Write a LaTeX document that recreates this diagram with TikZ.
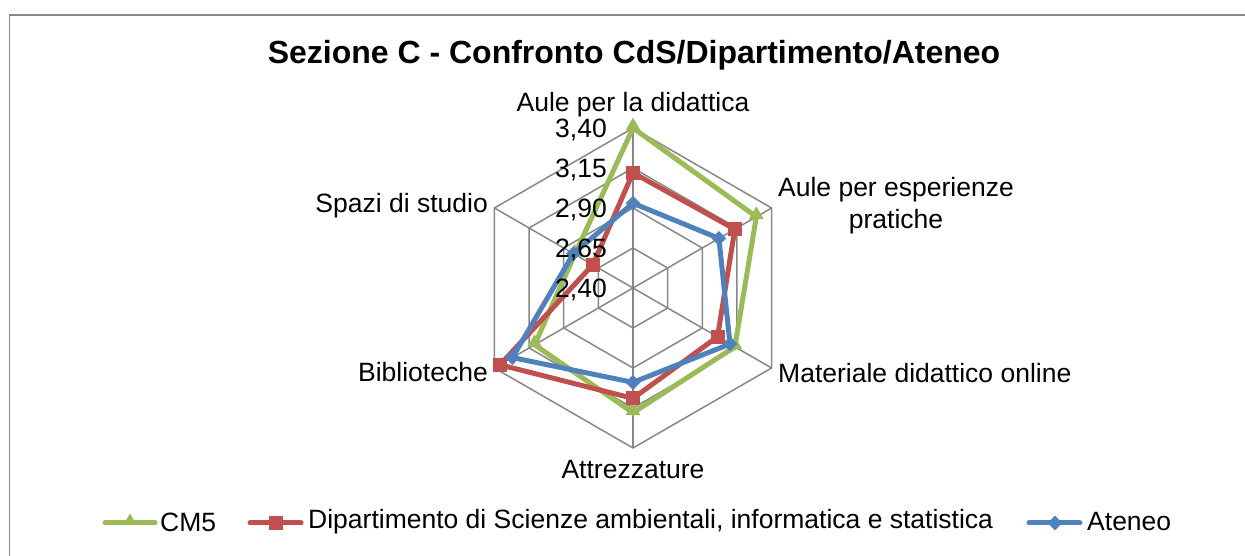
\documentclass[tikz,border=0pt]{standalone}
\usepackage{fontspec}
\setmainfont{Liberation Sans}
\usetikzlibrary{shapes.geometric}
\definecolor{cmgreen}{HTML}{9BBB59}
\definecolor{dipred}{HTML}{C0504D}
\definecolor{atblue}{HTML}{4F81BD}
\definecolor{gridgray}{HTML}{878787}
\begin{document}
\begin{tikzpicture}[x=1pt,y=1pt,
  frameline/.style={draw=gridgray,line width=1.5pt},
  gridline/.style={draw=gridgray,line width=1.5pt},
  lbl/.style={font=\fontsize{26.5}{32}\selectfont,inner sep=0pt},
  ttl/.style={font=\fontsize{32}{36}\selectfont\bfseries,inner sep=0pt},
  series/.style={line width=5pt,line join=miter},
  legline/.style={line width=5pt,line cap=round},
  tri/.style={regular polygon,regular polygon sides=3,fill=cmgreen,inner sep=0pt,minimum size=17pt},
  sq/.style={rectangle,fill=dipred,inner sep=0pt,minimum size=14pt},
  dia/.style={diamond,fill=atblue,inner sep=0pt,minimum size=15pt},
]
\useasboundingbox (0,0) rectangle (1245,556);
\draw[frameline] (9.5,0) -- (9.5,541) -- (1245,541);

\node[ttl] (title) at (634,501) {Sezione C - Confronto CdS/Dipartimento/Ateneo};

\begin{scope}[shift={(633,268)}]
  % grid
  \foreach \r in {40,80,120,160} {
    \draw[gridline] (90:\r) -- (30:\r) -- (-30:\r) -- (-90:\r) -- (210:\r) -- (150:\r) -- cycle;
  }
  \coordinate (c) at (0,0);
  \foreach \a/\n in {90/v1,30/v2,-30/v3,-90/v4,210/v5,150/v6} {
    \coordinate (\n) at (\a:160);
    \draw[gridline] (c) -- (\n);
  }
  % CM5
  \coordinate (g1) at (90:160);
  \coordinate (g2) at (30:142.4);
  \coordinate (g3) at (-30:117.6);
  \coordinate (g4) at (-90:124.8);
  \coordinate (g5) at (210:113.6);
  \coordinate (g6) at (150:67.2);
  \draw[series,draw=cmgreen] (g1) -- (g2) -- (g3) -- (g4) -- (g5) -- (g6) -- cycle;
  \foreach \p in {g1,g2,g3,g4,g5,g6} { \node[tri] (m\p) at ([yshift=2pt]\p) {}; }
  % Dipartimento
  \coordinate (r1) at (90:115.2);
  \coordinate (r2) at (30:117.6);
  \coordinate (r3) at (-30:97.6);
  \coordinate (r4) at (-90:110.4);
  \coordinate (r5) at (210:153.6);
  \coordinate (r6) at (150:46.4);
  \draw[series,draw=dipred] (r1) -- (r2) -- (r3) -- (r4) -- (r5) -- (r6) -- cycle;
  \foreach \p in {r1,r2,r3,r4,r5,r6} { \node[sq] (m\p) at (\p) {}; }
  % Ateneo
  \coordinate (b1) at (90:84.8);
  \coordinate (b2) at (30:99.2);
  \coordinate (b3) at (-30:112);
  \coordinate (b4) at (-90:94.4);
  \coordinate (b5) at (210:139.2);
  \coordinate (b6) at (150:68.8);
  \draw[series,draw=atblue] (b1) -- (b2) -- (b3) -- (b4) -- (b5) -- (b6) -- cycle;
  \foreach \p in {b1,b2,b3,b4,b5,b6} { \node[dia] (m\p) at (\p) {}; }
  % tick labels (on top)
  \foreach \y/\t in {158/{3,40},118/{3,15},78/{2,90},38/{2,65},-2/{2,40}} {
    \node[lbl,anchor=east] at (-26,\y) {\t};
  }
\end{scope}

% category labels
\node[lbl] (l1) at (633,451) {Aule per la didattica};
\node[lbl,align=center] (l2) at (896,350) {Aule per esperienze\\pratiche};
\node[lbl,anchor=west] (l3) at (778,183) {Materiale didattico online};
\node[lbl] (l4) at (633,86) {Attrezzature};
\node[lbl,anchor=east] (l5) at (488,184) {Biblioteche};
\node[lbl,anchor=east] (l6) at (488,350) {Spazi di studio};

% legend
\coordinate (la1) at (105,33); \coordinate (la2) at (155,33);
\draw[legline,draw=cmgreen] (la1) -- (la2);
\node[tri,minimum size=15pt] (lm1) at (130,35) {};
\node[lbl,anchor=west] (lt1) at (160,34) {CM5};
\coordinate (lb1) at (250,33); \coordinate (lb2) at (301,33);
\draw[legline,draw=dipred] (lb1) -- (lb2);
\node[sq] (lm2) at (275.5,33) {};
\node[lbl,anchor=west] (lt2) at (308,34) {Dipartimento di Scienze ambientali, informatica e statistica};
\coordinate (lc1) at (1029,33); \coordinate (lc2) at (1080,33);
\draw[legline,draw=atblue] (lc1) -- (lc2);
\node[dia] (lm3) at (1055,33) {};
\node[lbl,anchor=west] (lt3) at (1087,34) {Ateneo};
\end{tikzpicture}
\end{document}
